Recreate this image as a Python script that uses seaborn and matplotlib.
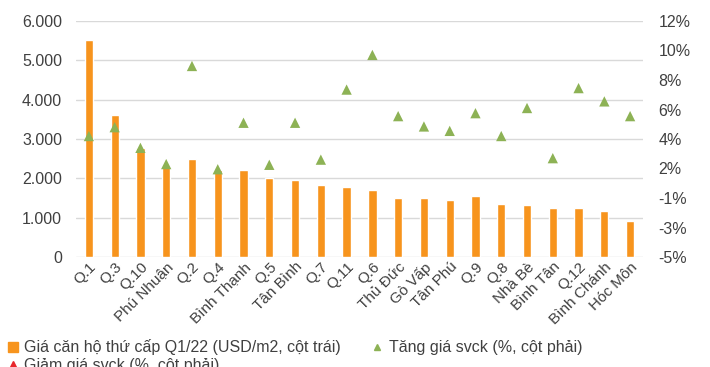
import numpy as np
import pandas as pd
import matplotlib
matplotlib.use("Agg")
import matplotlib.pyplot as plt
from matplotlib.lines import Line2D
import seaborn as sns

# Districts of HCMC, sorted by secondary-market apartment price
districts = ["Q.1", "Q.3", "Q.10", "Phú Nhuận", "Q.2", "Q.4", "Bình Thạnh", "Q.5",
             "Tân Bình", "Q.7", "Q.11", "Q.6", "Thủ Đức", "Gò Vấp", "Tân Phú", "Q.9",
             "Q.8", "Nhà Bè", "Bình Tân", "Q.12", "Bình Chánh", "Hóc Môn"]

# Secondary apartment price Q1/22 (USD/m2, left axis)
price_usd_m2 = [5510, 3600, 2780, 2300, 2480, 2200, 2215, 2010,
                1950, 1820, 1775, 1715, 1510, 1510, 1440, 1545,
                1350, 1310, 1240, 1240, 1170, 910]

# YoY price growth (%, right axis)
yoy_increase = [4.2, 4.8, 3.4, 2.3, 8.95, 1.95, 5.1, 2.25,
                5.1, 2.6, 7.35, 9.7, 5.55, 4.85, 4.55, 5.75,
                4.2, 6.1, 2.7, 7.45, 6.55, 5.55]

# YoY price decrease (%, right axis) - no district declined
yoy_decrease = [np.nan] * len(districts)

right_ticks = [12, 10, 8, 6, 4, 2, 0, -2, -4]
right_tick_labels = ["12%", "10%", "8%", "6%", "4%", "2%", "-1%", "-3%", "-5%"]
left_ticks = [0, 1000, 2000, 3000, 4000, 5000, 6000]
left_tick_labels = ["0", "1.000", "2.000", "3.000", "4.000", "5.000", "6.000"]

label_price = "Giá căn hộ thứ cấp Q1/22 (USD/m2, cột trái)"
label_up = "Tăng giá svck (%, cột phải)"
label_down = "Giảm giá svck (%, cột phải)"

sns.set_theme(style="white")
plt.rcParams["font.family"] = ["Liberation Sans", "DejaVu Sans"]

ORANGE = "#F7941D"
GREEN = "#8DB255"
RED = "#E8262B"
TEXT = "#404040"

df = pd.DataFrame({"district": districts, "price": price_usd_m2,
                   "up": yoy_increase, "down": yoy_decrease,
                   "pos": np.arange(len(districts))})

fig = plt.figure(figsize=(7.10, 3.67), dpi=100)
ax = fig.add_axes([76 / 710, 1 - 257 / 367, (643 - 76) / 710, (257 - 21) / 367])

sns.barplot(data=df, x="district", y="price", order=districts, color=ORANGE,
            saturation=1, width=0.32, ax=ax, zorder=2)
ax.set_xlim(-0.5, len(districts) - 0.5)
ax.set_ylim(0, 6000)
ax.set_yticks(left_ticks)
ax.set_yticklabels(left_tick_labels)
ax.yaxis.grid(True, color="#D9D9D9", linewidth=1.0, zorder=0)
ax.set_axisbelow(True)
ax.set_xlabel("")
ax.set_ylabel("")
for s in ax.spines.values():
    s.set_visible(False)
ax.tick_params(axis="y", length=0, pad=10, labelsize=11.5, labelcolor=TEXT)
ax.tick_params(axis="x", length=0, pad=2, labelsize=11, labelcolor=TEXT)
for lbl in ax.get_xticklabels():
    lbl.set_rotation(45)
    lbl.set_ha("right")
    lbl.set_rotation_mode("anchor")

ax2 = ax.twinx()
sns.scatterplot(data=df, x="pos", y="up", marker="^", color=GREEN, s=55,
                edgecolor="none", ax=ax2, zorder=3, legend=False)
sns.scatterplot(data=df, x="pos", y="down", marker="^", color=RED, s=55,
                edgecolor="none", ax=ax2, zorder=3, legend=False)
ax2.set_xlim(-0.5, len(districts) - 0.5)
ax2.set_ylim(-4, 12)
ax2.set_yticks(right_ticks)
ax2.set_yticklabels(right_tick_labels)
ax2.set_ylabel("")
ax2.grid(False)
for s in ax2.spines.values():
    s.set_visible(False)
ax2.tick_params(axis="y", length=0, pad=11, labelsize=11.5, labelcolor=TEXT)

handles = [
    Line2D([], [], linestyle="none", marker="s", markersize=7, color=ORANGE),
    Line2D([], [], linestyle="none", marker="^", markersize=4.5, color=RED),
    Line2D([], [], linestyle="none", marker="^", markersize=4.5, color=GREEN),
]
fig.legend(handles, [label_price, label_down, label_up], ncol=2,
           loc="upper left", bbox_to_anchor=(0.0, 1 - 333 / 367),
           frameon=False, fontsize=11.5, handlelength=0.8, handletextpad=0.3,
           columnspacing=1.9, labelspacing=0.15, borderaxespad=0,
           labelcolor=TEXT)

fig.savefig("out.png", dpi=100)
